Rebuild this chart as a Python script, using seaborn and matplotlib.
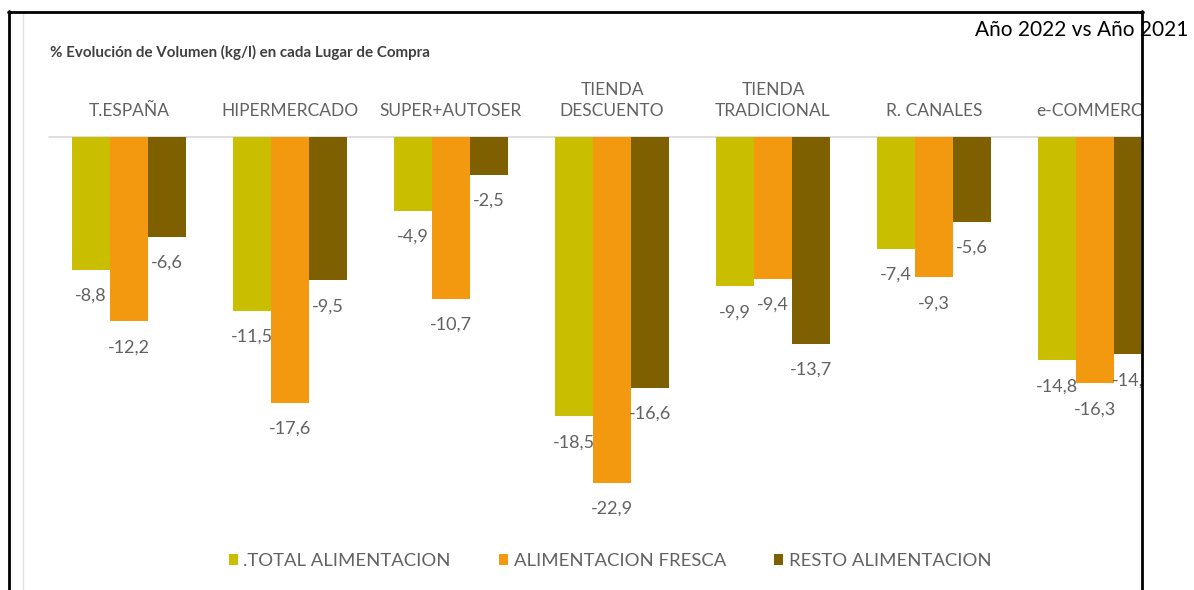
import pandas as pd
import numpy as np
import matplotlib
matplotlib.use("Agg")
import matplotlib.pyplot as plt
from matplotlib.lines import Line2D
from matplotlib.patches import Rectangle
import seaborn as sns

# Data (% change in volume, 2022 vs 2021)
lugares = ["T.ESPAÑA", "HIPERMERCADO", "SUPER+AUTOSER", "TIENDA\nDESCUENTO",
           "TIENDA\nTRADICIONAL", "R. CANALES", "e-COMMERCE"]
series = [".TOTAL ALIMENTACION", "ALIMENTACION FRESCA", "RESTO ALIMENTACION"]
total_alim = [-8.8, -11.5, -4.9, -18.5, -9.9, -7.4, -14.8]
alim_fresca = [-12.2, -17.6, -10.7, -22.9, -9.4, -9.3, -16.3]
resto_alim = [-6.6, -9.5, -2.5, -16.6, -13.7, -5.6, -14.4]

colores = ["#C9BE00", "#F3990F", "#7F6000"]
gris = "#626262"

# Long table for seaborn
df = pd.DataFrame({
    "lugar": lugares * 3,
    "serie": [series[0]] * 7 + [series[1]] * 7 + [series[2]] * 7,
    "valor": total_alim + alim_fresca + resto_alim,
})

sns.set_theme(style="white")
plt.rcParams["font.family"] = ["Lato", "DejaVu Sans"]

W, H = 1194, 590
fig = plt.figure(figsize=(W / 100, H / 100), dpi=100)

# axes placed in pixel terms so the crop at the right edge matches
ax_left, ax_right, ax_top = 48.5, 1141, 137
ax = fig.add_axes([ax_left / W, 0, (ax_right - ax_left) / W, (H - ax_top) / H])
ax.set_facecolor("none")

sns.barplot(data=df, x="lugar", y="valor", hue="serie", palette=colores,
            saturation=1, width=0.71, errorbar=None, linewidth=0, ax=ax)

for cont in ax.containers:
    ax.bar_label(cont, fmt=lambda v: f"{v:.1f}".replace(".", ","),
                 padding=13, color=gris, fontsize=13)

ax.set_xlim(-0.5, (ax_right - 129) / 161)
ax.set_ylim(-30, 0)
ax.axhline(0, color="#D9D9D9", lw=1.2, clip_on=False, zorder=0)

ax.xaxis.tick_top()
ax.set_xticks(range(len(lugares)))
ax.set_xticklabels(lugares, color=gris, fontsize=12.5, linespacing=1.35)
ax.tick_params(axis="x", length=0, pad=13)
ax.set_yticks([])
ax.set_xlabel("")
ax.set_ylabel("")
for s in ax.spines.values():
    s.set_visible(False)

sns.move_legend(ax, "center", bbox_to_anchor=((610 - ax_left) / (ax_right - ax_left), (H - 561) / (H - ax_top)),
                ncol=3, frameon=False, title=None, fontsize=13.3,
                handlelength=0.5, handleheight=0.5, handletextpad=0.3,
                columnspacing=2.6)
for t in ax.get_legend().get_texts():
    t.set_color(gris)

# title of the chart
fig.text(50 / W, 1 - 52 / H, "% Evolución de Volumen (kg/l) en cada Lugar de Compra",
         fontsize=10.9, fontweight="bold", color="#404040", va="center", ha="left")

# cropped screenshot: white out what is right of the frame, then the frame lines
fig.add_artist(Rectangle((1143 / W, 0), 1, (H - 50) / H, transform=fig.transFigure,
                         facecolor="white", edgecolor="none", zorder=5))
fig.add_artist(Line2D([23 / W, 23 / W], [0, 1 - 13 / H], transform=fig.transFigure,
                      color="#E4E4E4", lw=1, zorder=6))
fig.add_artist(Line2D([9 / W, 9 / W], [0, 1 - 11 / H], transform=fig.transFigure,
                      color="black", lw=2, zorder=6))
fig.add_artist(Line2D([8 / W, 1143 / W], [1 - 12 / H, 1 - 12 / H], transform=fig.transFigure,
                      color="black", lw=2, zorder=6))
fig.add_artist(Line2D([1142 / W, 1142 / W], [0, 1 - 11 / H], transform=fig.transFigure,
                      color="black", lw=2, zorder=6))

fig.text(1188 / W, 1 - 30 / H, "Año 2022 vs Año 2021", fontsize=15, color="black",
         ha="right", va="center", zorder=7)

fig.savefig("out.png", dpi=100)
